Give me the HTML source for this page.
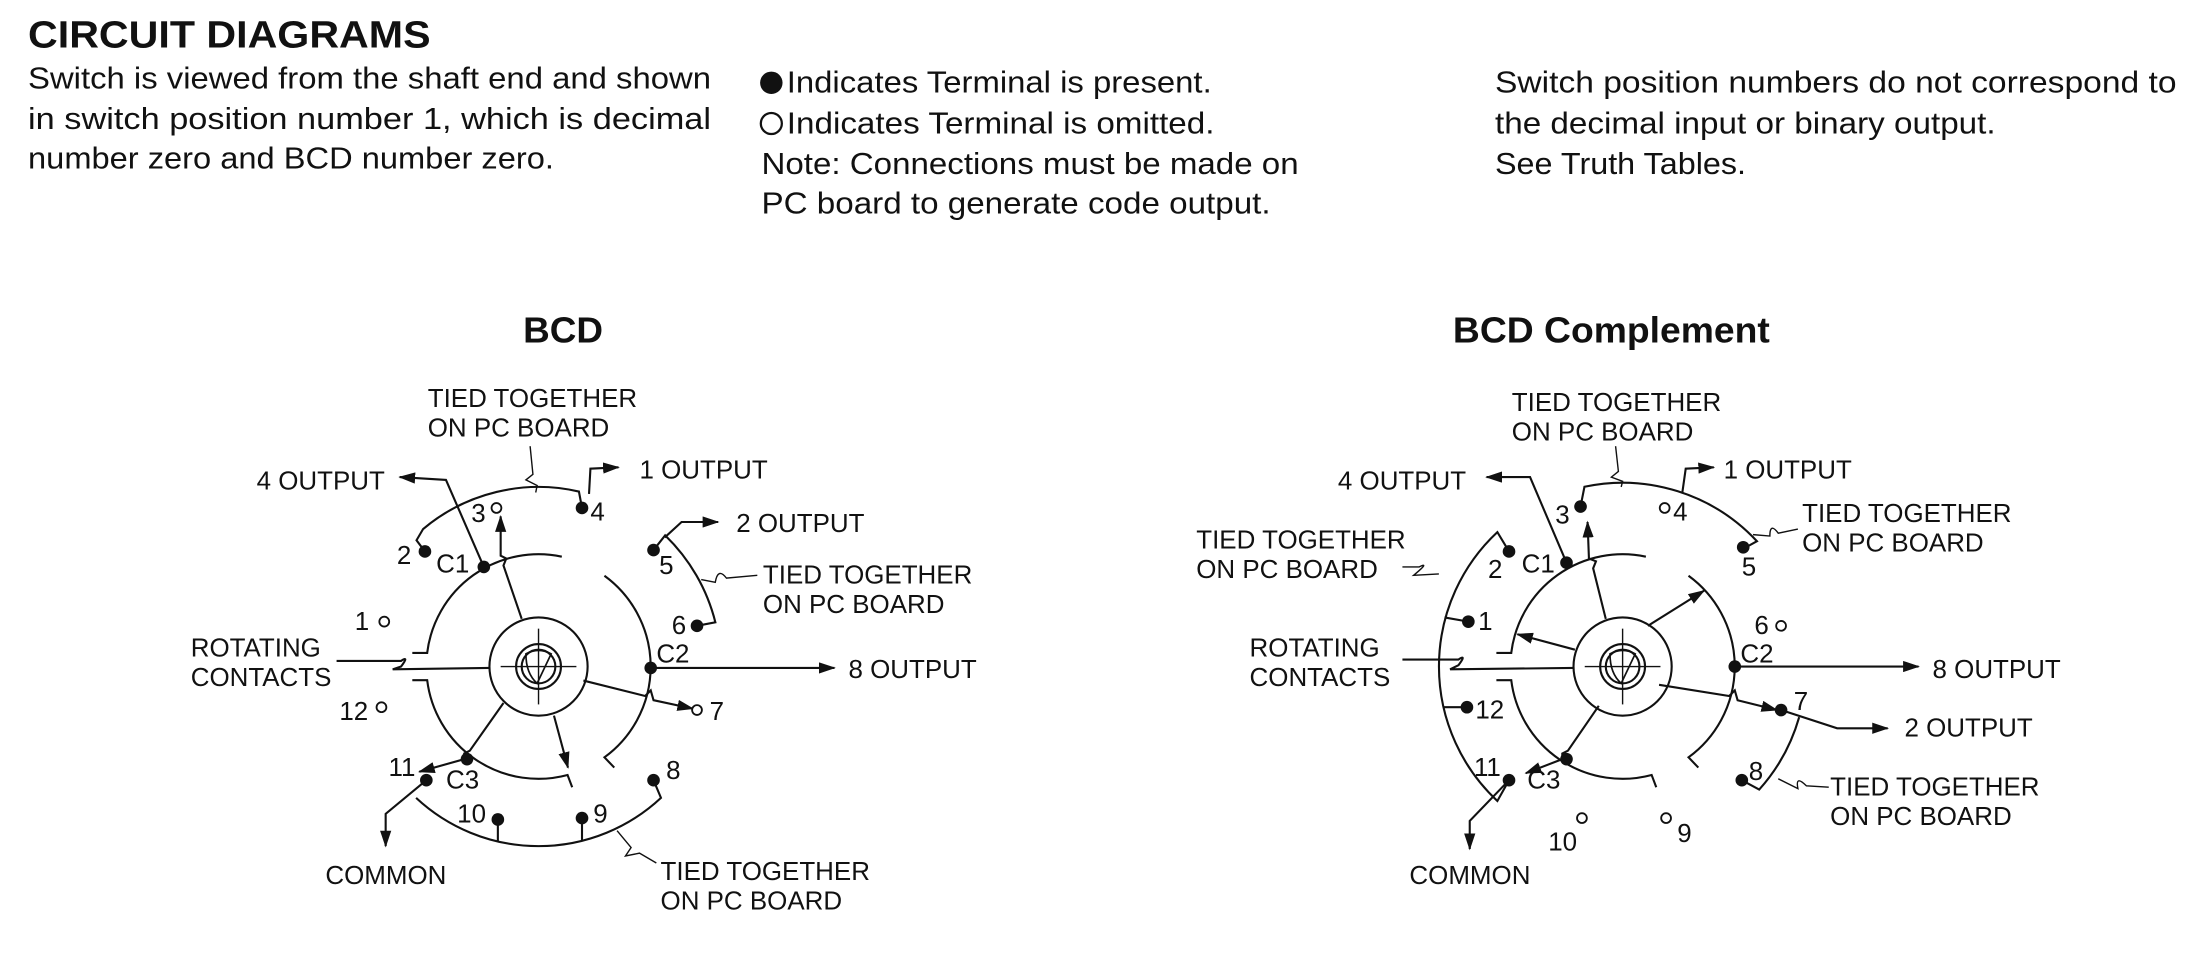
<!DOCTYPE html>
<html><head><meta charset="utf-8"><style>
html,body{margin:0;padding:0;background:#fff;}
svg{display:block;}
text{font-family:"Liberation Sans",sans-serif;fill:#111;}
.b{font-size:22px;}
.l{font-size:18.5px;}
.s{stroke:#111;stroke-width:1.5;fill:none;}
.f{fill:#111;}
.o{fill:#fff;stroke:#111;stroke-width:1.3;}
</style></head><body>
<svg width="2199" height="957" viewBox="0 0 1568 682" preserveAspectRatio="none" xmlns="http://www.w3.org/2000/svg">
<defs>
<marker id="ar" viewBox="0 0 12 8" refX="11" refY="4" markerWidth="12" markerHeight="8" markerUnits="userSpaceOnUse" orient="auto"><path d="M0,0 L12,4 L0,8 Z" fill="#111"/></marker>
</defs>
<!-- Header -->
<text x="20" y="34" style="font-size:27px;font-weight:bold" textLength="287" lengthAdjust="spacingAndGlyphs">CIRCUIT DIAGRAMS</text>
<text class="b" x="20" y="63" textLength="487" lengthAdjust="spacingAndGlyphs">Switch is viewed from the shaft end and shown</text>
<text class="b" x="20" y="92" textLength="487" lengthAdjust="spacingAndGlyphs">in switch position number 1, which is decimal</text>
<text class="b" x="20" y="120" textLength="375" lengthAdjust="spacingAndGlyphs">number zero and BCD number zero.</text>
<circle cx="550" cy="59" r="8" class="f"/>
<text class="b" x="561" y="66" textLength="303" lengthAdjust="spacingAndGlyphs">Indicates Terminal is present.</text>
<circle cx="550" cy="88" r="7.5" class="o" style="stroke-width:1.6"/>
<text class="b" x="561" y="95" textLength="305" lengthAdjust="spacingAndGlyphs">Indicates Terminal is omitted.</text>
<text class="b" x="543" y="124" textLength="383" lengthAdjust="spacingAndGlyphs">Note: Connections must be made on</text>
<text class="b" x="543" y="152" textLength="363" lengthAdjust="spacingAndGlyphs">PC board to generate code output.</text>
<text class="b" x="1066" y="66" textLength="486" lengthAdjust="spacingAndGlyphs">Switch position numbers do not correspond to</text>
<text class="b" x="1066" y="95" textLength="357" lengthAdjust="spacingAndGlyphs">the decimal input or binary output.</text>
<text class="b" x="1066" y="124" textLength="179" lengthAdjust="spacingAndGlyphs">See Truth Tables.</text>

<!-- ============ LEFT: BCD ============ -->
<text x="373" y="244" style="font-size:26px;font-weight:bold" textLength="57" lengthAdjust="spacingAndGlyphs">BCD</text>
<g class="s">
<circle cx="384" cy="475" r="35"/>
<circle cx="384" cy="475" r="16"/>
<circle cx="384" cy="475" r="12"/>
<path d="M375,466 Q384,461 393,466 L383,487 Q375,480 375,466 Z" style="stroke-width:1.2"/>
<line x1="357" y1="475" x2="411" y2="475" style="stroke-width:1"/>
<line x1="384" y1="448" x2="384" y2="502" style="stroke-width:1"/>
<path d="M294,465.3 L304.6,465.3 A80,80 0 0 1 400.6,396.7"/>
<path d="M431,410.3 A80,80 0 0 1 431,539.7 L438,547"/>
<path d="M294,484.7 L304.6,484.7 A80,80 0 0 0 404.7,552.3 L408,561"/>
<path d="M372,441 L359,403 L361,398 L357,396 L357,368" marker-end="url(#ar)"/>
<path d="M416,485 L460,496 L464,492 L466,499 L494,505" marker-end="url(#ar)"/>
<path d="M395,510 L405,547" marker-end="url(#ar)"/>
<path d="M359,501 L335,535 L331,537 L331,541 L299,550" marker-end="url(#ar)"/>
<path d="M240,471 L286,471 Q292,467 286,475 L280,477 L349,476"/>
<path d="M345,404 L318,342 L285,340" marker-end="url(#ar)"/>
<path d="M303,393 L297,385 L301.7,377 A128,128 0 0 1 412.8,350.3 L415,362"/>
<path d="M420,352 L421,334 L441,333" marker-end="url(#ar)"/>
<path d="M378,318 L380,338 L375,342 L383,346 L382,351" style="stroke-width:1"/>
<path d="M466,392 L474.3,381.5 A130,130 0 0 1 510.1,443.5 L497,446"/>
<path d="M474,383 L486,372 L512,372" marker-end="url(#ar)"/>
<path d="M540,410 L518,412 Q512,404 510,415 L500,413" style="stroke-width:1"/>
<path d="M464,476 L595,476" marker-end="url(#ar)"/>
<path d="M296.7,568.6 A128,128 0 0 0 471.3,568.6 L466,556"/>
<line x1="415" y1="583" x2="415" y2="599"/>
<line x1="355" y1="584" x2="355" y2="599.6"/>
<path d="M304,556 L275,580 L275,603" marker-end="url(#ar)"/>
<path d="M440,592 L450,604 L446,610 L456,608 L468,615" style="stroke-width:1"/>
</g>
<g class="f">
<circle cx="303" cy="393" r="4.5"/><circle cx="415" cy="362" r="4.5"/><circle cx="466" cy="392" r="4.5"/>
<circle cx="497" cy="446" r="4.5"/><circle cx="466" cy="556" r="4.5"/><circle cx="415" cy="583" r="4.5"/>
<circle cx="355" cy="584" r="4.5"/><circle cx="304" cy="556" r="4.5"/>
<circle cx="345" cy="404" r="4.5"/><circle cx="464" cy="476" r="4.5"/><circle cx="333" cy="541" r="4.5"/>
</g>
<circle cx="274" cy="443" r="3.5" class="o"/><circle cx="354" cy="362" r="3.5" class="o"/>
<circle cx="497" cy="506" r="3.5" class="o"/><circle cx="272" cy="504" r="3.5" class="o"/>
<g class="l">
<text x="253" y="449">1</text><text x="283" y="402">2</text><text x="336" y="372">3</text><text x="421" y="371">4</text>
<text x="470" y="409">5</text><text x="479" y="452">6</text><text x="506" y="513">7</text><text x="475" y="555">8</text>
<text x="423" y="586">9</text><text x="326" y="586">10</text><text x="277" y="553">11</text><text x="242" y="513">12</text>
<text x="311" y="408">C1</text><text x="468" y="472">C2</text><text x="318" y="562">C3</text>
<text x="305" y="290">TIED TOGETHER</text><text x="305" y="311">ON PC BOARD</text>
<text x="183" y="349">4 OUTPUT</text><text x="456" y="341">1 OUTPUT</text><text x="525" y="379">2 OUTPUT</text>
<text x="544" y="416">TIED TOGETHER</text><text x="544" y="437">ON PC BOARD</text>
<text x="136" y="468">ROTATING</text><text x="136" y="489">CONTACTS</text>
<text x="605" y="483">8 OUTPUT</text>
<text x="232" y="630">COMMON</text>
<text x="471" y="627">TIED TOGETHER</text><text x="471" y="648">ON PC BOARD</text>
</g>

<!-- ============ RIGHT: BCD Complement ============ -->
<text x="1036" y="244" style="font-size:26px;font-weight:bold" textLength="226" lengthAdjust="spacingAndGlyphs">BCD Complement</text>
<g class="s">
<circle cx="1157" cy="475" r="35"/>
<circle cx="1157" cy="475" r="16"/>
<circle cx="1157" cy="475" r="12"/>
<path d="M1148,466 Q1157,461 1166,466 L1156,487 Q1148,480 1148,466 Z" style="stroke-width:1.2"/>
<line x1="1130" y1="475" x2="1184" y2="475" style="stroke-width:1"/>
<line x1="1157" y1="448" x2="1157" y2="502" style="stroke-width:1"/>
<path d="M1067,465.3 L1077.6,465.3 A80,80 0 0 1 1173.6,396.7"/>
<path d="M1204,410.3 A80,80 0 0 1 1204,539.7 L1211,547"/>
<path d="M1067,484.7 L1077.6,484.7 A80,80 0 0 0 1177.7,552.3 L1181,561"/>
<path d="M1145,441 L1136,405 L1138,400 L1133,398 L1132,372" marker-end="url(#ar)"/>
<path d="M1175,446 L1215,421" marker-end="url(#ar)"/>
<path d="M1123,463 L1082,452" marker-end="url(#ar)"/>
<path d="M1183,488 L1233,496 L1237,492 L1239,499 L1267,506" marker-end="url(#ar)"/>
<path d="M1140,503 L1118,535 L1114,537 L1114,541 L1088,551" marker-end="url(#ar)"/>
<path d="M1000,470 L1040,470 Q1046,466 1040,474 L1034,477 L1122,476"/>
<path d="M1117,401 L1091,340 L1060,340" marker-end="url(#ar)"/>
<path d="M1076,393 L1067.7,379.2 A131,131 0 0 0 1067.7,570.8 L1076,556"/>
<line x1="1030" y1="440" x2="1047" y2="443"/>
<line x1="1029.3" y1="504" x2="1046" y2="504"/>
<path d="M1000,404 L1012,404 Q1020,400 1008,410 L1026,409" style="stroke-width:1"/>
<path d="M1076,556 L1048,585 L1048,605" marker-end="url(#ar)"/>
<path d="M1127,361 L1129.8,346.9 A131,131 0 0 1 1252.8,385.7 L1245,390"/>
<path d="M1199.6,351 L1202,334 L1222,333" marker-end="url(#ar)"/>
<path d="M1152,318 L1154,336 L1149,340 L1157,343 L1156,347" style="stroke-width:1"/>
<path d="M1282,377 L1268,380 Q1262,372 1262,382 L1250,381" style="stroke-width:1"/>
<path d="M1237,475 L1368,475" marker-end="url(#ar)"/>
<path d="M1270,506 L1310,519 L1346,519" marker-end="url(#ar)"/>
<path d="M1282.9,511.1 A131,131 0 0 1 1254.4,562.7 L1242,556"/>
<path d="M1304,561 L1288,560 Q1280,552 1282,562 L1268,555" style="stroke-width:1"/>
</g>
<g class="f">
<circle cx="1047" cy="443" r="4.5"/><circle cx="1076" cy="393" r="4.5"/><circle cx="1127" cy="361" r="4.5"/>
<circle cx="1243" cy="390" r="4.5"/><circle cx="1270" cy="506" r="4.5"/><circle cx="1242" cy="556" r="4.5"/>
<circle cx="1076" cy="556" r="4.5"/><circle cx="1046" cy="504" r="4.5"/>
<circle cx="1117" cy="401" r="4.5"/><circle cx="1237" cy="475" r="4.5"/><circle cx="1117" cy="541" r="4.5"/>
</g>
<circle cx="1187" cy="362" r="3.5" class="o"/><circle cx="1270" cy="446" r="3.5" class="o"/>
<circle cx="1188" cy="583" r="3.5" class="o"/><circle cx="1128" cy="583" r="3.5" class="o"/>
<g class="l">
<text x="1054" y="449">1</text><text x="1061" y="412">2</text><text x="1109" y="373">3</text><text x="1193" y="371">4</text>
<text x="1242" y="410">5</text><text x="1251" y="452">6</text><text x="1279" y="506">7</text><text x="1247" y="556">8</text>
<text x="1196" y="600">9</text><text x="1104" y="606">10</text><text x="1051" y="553">11</text><text x="1052" y="512">12</text>
<text x="1085" y="408">C1</text><text x="1241" y="472">C2</text><text x="1089" y="562">C3</text>
<text x="1078" y="293">TIED TOGETHER</text><text x="1078" y="314">ON PC BOARD</text>
<text x="954" y="349">4 OUTPUT</text><text x="1229" y="341">1 OUTPUT</text>
<text x="1285" y="372">TIED TOGETHER</text><text x="1285" y="393">ON PC BOARD</text>
<text x="853" y="391">TIED TOGETHER</text><text x="853" y="412">ON PC BOARD</text>
<text x="891" y="468">ROTATING</text><text x="891" y="489">CONTACTS</text>
<text x="1378" y="483">8 OUTPUT</text><text x="1358" y="525">2 OUTPUT</text>
<text x="1305" y="567">TIED TOGETHER</text><text x="1305" y="588">ON PC BOARD</text>
<text x="1005" y="630">COMMON</text>
</g>
</svg>
</body></html>
